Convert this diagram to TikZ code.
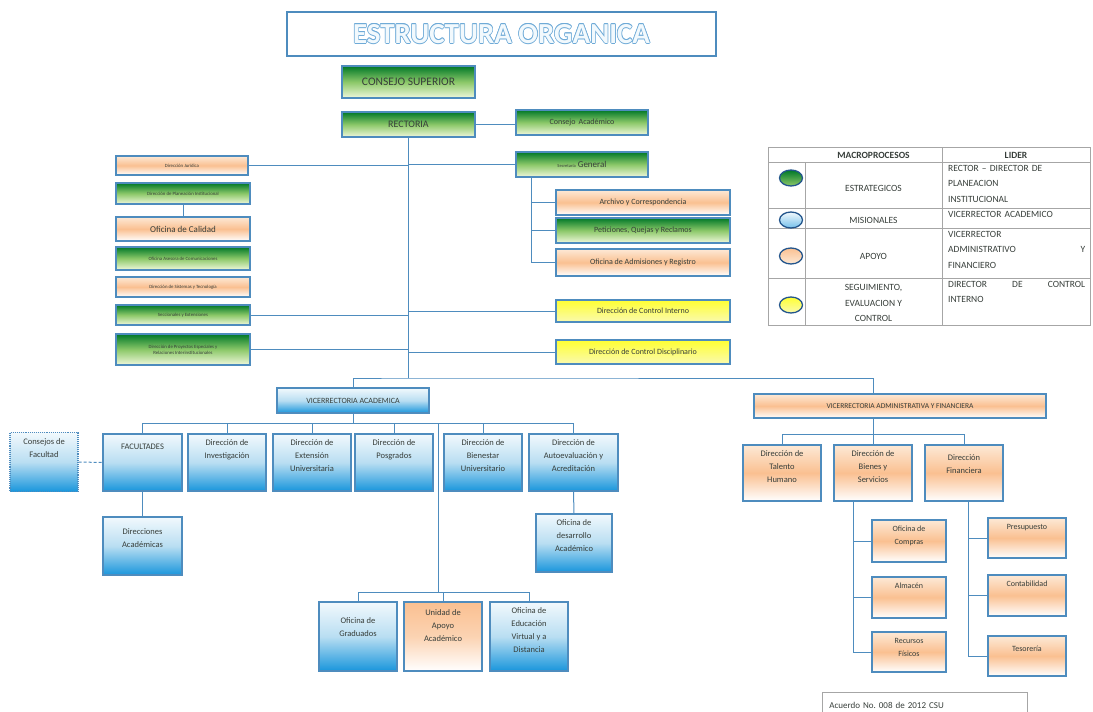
\documentclass[tikz,border=0pt]{standalone}
\usepackage{fontspec}
\setmainfont{Carlito}
\usetikzlibrary{shapes.geometric}
\definecolor{borde}{RGB}{78,140,190}
\definecolor{titulo}{RGB}{110,170,215}
\definecolor{texto}{RGB}{55,62,58}
\definecolor{verdeosc}{RGB}{0,120,40}
\definecolor{verdemed}{RGB}{140,200,105}
\definecolor{verdeclaro}{RGB}{240,248,220}
\definecolor{azul}{RGB}{25,150,220}
\definecolor{azulmed}{RGB}{185,222,242}
\definecolor{azulclaro}{RGB}{242,249,253}
\definecolor{naranja}{RGB}{250,192,145}
\definecolor{naranjaclaro}{RGB}{253,233,214}
\definecolor{amarillo}{RGB}{255,255,50}
\definecolor{amarilloclaro}{RGB}{250,250,175}
\definecolor{circulo}{RGB}{35,85,140}
\newcommand{\tope}[3]{\parbox[c][#2pt][t]{#1pt}{\centering\vspace*{6pt}#3}}
\newcommand{\capa}[3]{\makebox[0pt][l]{\hspace*{#1}\raisebox{#2}{\color{titulo}#3}}}
\newcommand{\hueco}[1]{\capa{0.7pt}{0pt}{#1}\capa{-0.7pt}{0pt}{#1}\capa{0pt}{0.7pt}{#1}\capa{0pt}{-0.7pt}{#1}%
  \capa{0.5pt}{0.5pt}{#1}\capa{-0.5pt}{0.5pt}{#1}\capa{0.5pt}{-0.5pt}{#1}\capa{-0.5pt}{-0.5pt}{#1}%
  {\color{azulclaro}#1}}

\begin{document}
\begin{tikzpicture}[x=1pt,y=-1pt,
  caja/.style={draw=borde, line width=1.1pt, align=center, text=texto, inner sep=1pt},
  sz/.style 2 args={minimum width=#1pt, minimum height=#2pt},
  verde/.style={caja, top color=verdeosc, bottom color=verdeclaro, middle color=verdemed},
  azulc/.style={caja, inner sep=0pt, top color=azulclaro, bottom color=azul, middle color=azulmed,
    font=\fontsize{8.5}{13}\selectfont},
  naranjac/.style={caja, top color=naranjaclaro, bottom color=white, middle color=naranja},
  amarilloc/.style={caja, top color=amarillo, bottom color=amarilloclaro},
  chico/.style={font=\fontsize{4.8}{6}\selectfont},
  linea/.style={draw=borde, line width=1pt},
  tabla/.style={draw=gray!70, line width=0.6pt},
  celda/.style={text=texto, font=\fontsize{9.5}{15.5}\selectfont, align=center},
  marca/.style={ellipse, draw=circulo, line width=1.3pt, minimum width=23pt, minimum height=16pt, inner sep=0pt}]
\useasboundingbox (0,0) rectangle (1093,712);

\node[draw=borde, line width=1.6pt, sz={429}{44}] (tit) at (501.5,34)
  {\fontsize{29}{29}\selectfont\bfseries\hueco{ESTRUCTURA ORGANICA}};

\node[verde, sz={133}{32}, font=\fontsize{11.5}{12}\selectfont] (cs) at (408.5,82) {CONSEJO SUPERIOR};
\node[verde, sz={133}{25}, font=\fontsize{10}{11}\selectfont] (rect) at (408.5,124.5) {RECTORIA};
\node[verde, sz={132}{25}, font=\fontsize{8}{9}\selectfont] (cacad) at (582,122.5) {Consejo\, Académico};

% staff izquierda
\node[naranjac, chico, sz={132}{19}] (djur) at (182,165.5) {Dirección Jurídica};
\node[verde, chico, sz={134}{21}] (plan) at (183,193.5) {Dirección de Planeación Institucional};
\node[naranjac, sz={134}{24}, font=\fontsize{9}{10}\selectfont] (cal) at (183,229) {Oficina de Calidad};
\node[verde, chico, sz={134}{23}] (com) at (183,258.5) {Oficina Asesora de Comunicaciones};
\node[naranjac, chico, sz={134}{20}] (sis) at (183,287) {Dirección de Sistemas y Tecnología};
\node[verde, chico, sz={134}{20}] (secc) at (183,315) {Seccionales y Extensiones};
\node[verde, chico, sz={134}{31}] (proy) at (183,349.5) {Dirección de Proyectos Especiales y\\Relaciones Interinstitucionales};

% staff derecha
\node[verde, sz={132}{25}, font=\fontsize{9}{10}\selectfont] (sgen) at (582,164.5) {{\fontsize{4.5}{5}\selectfont Secretaría} General};
\node[naranjac, sz={174}{25}, font=\fontsize{8}{9}\selectfont] (arch) at (643,202.5) {Archivo y Correspondencia};
\node[verde, sz={174}{25}, font=\fontsize{8}{9}\selectfont] (pqr) at (643,230.5) {Peticiones, Quejas y Reclamos};
\node[naranjac, sz={174}{27}, font=\fontsize{8}{9}\selectfont] (adm) at (643,262.5) {Oficina de Admisiones y Registro};
\node[amarilloc, sz={174}{22}, font=\fontsize{8}{9}\selectfont] (cint) at (643,311) {Dirección de Control Interno};
\node[amarilloc, sz={174}{24}, font=\fontsize{8}{9}\selectfont] (cdis) at (643,352) {Dirección de Control Disciplinario};

% vicerrectoria academica
\node[caja, top color=azulclaro, bottom color=azul, middle color=azulmed, sz={152}{25}, font=\fontsize{8}{9}\selectfont] (va) at (353,400.5) {VICERRECTORIA ACADEMICA};
\node[azulc, densely dotted] (cfac) at (44,462) {\tope{68}{59}{Consejos de\\Facultad}};
\node[azulc] (fac) at (142.5,462.5) {\tope{79}{57}{\vspace*{4pt}FACULTADES}};
\node[azulc] (inv) at (227,462.5) {\tope{78}{57}{Dirección de\\Investigación}};
\node[azulc] (ext) at (312,462.5) {\tope{78}{57}{Dirección de\\Extensión\\Universitaria}};
\node[azulc] (pos) at (394,462.5) {\tope{78}{57}{Dirección de\\Posgrados}};
\node[azulc] (bie) at (483,462.5) {\tope{78}{57}{Dirección de\\Bienestar\\Universitario}};
\node[azulc] (aut) at (573.5,462.5) {\tope{89}{57}{Dirección de\\Autoevaluación y\\Acreditación}};
\node[azulc] (dirac) at (142.5,546) {\tope{79}{58}{\vspace*{6pt}Direcciones\\Académicas}};
\node[azulc] (odes) at (574,543) {\tope{76}{58}{Oficina de\\desarrollo\\Académico}};
\node[azulc] (grad) at (358,636.5) {\tope{78}{69}{\vspace*{10pt}Oficina de\\Graduados}};
\node[caja, inner sep=0pt, top color=naranja, bottom color=white, middle color=naranja!70, font=\fontsize{8.5}{13}\selectfont] (apoyo) at (443,636.5) {\tope{78}{69}{\vspace*{2pt}Unidad de\\Apoyo\\Académico}};
\node[azulc] (virt) at (529,636.5) {\tope{78}{69}{Oficina de\\Educación\\Virtual y a\\Distancia}};

% vicerrectoria administrativa
\node[naranjac, sz={292}{24}, font=\fontsize{7.5}{8}\selectfont] (vaf) at (900,406) {VICERRECTORIA ADMINISTRATIVA Y FINANCIERA};
\node[naranjac, inner sep=0pt, font=\fontsize{8.5}{13}\selectfont] (tal) at (782,473) {\tope{78}{56}{Dirección de\\Talento\\Humano}};
\node[naranjac, inner sep=0pt, font=\fontsize{8.5}{13}\selectfont] (bys) at (873,473) {\tope{78}{56}{Dirección de\\Bienes y\\Servicios}};
\node[naranjac, inner sep=0pt, font=\fontsize{8.5}{13}\selectfont] (fin) at (964,473) {\tope{78}{56}{\vspace*{4pt}Dirección\\Financiera}};
\node[naranjac, inner sep=0pt, font=\fontsize{8}{13}\selectfont] (compras) at (909,541) {\tope{74}{42}{Oficina de\\Compras}};
\node[naranjac, inner sep=0pt, font=\fontsize{8}{13}\selectfont] (alm) at (909,597.5) {\tope{74}{41}{Almacén}};
\node[naranjac, inner sep=0pt, font=\fontsize{8}{13}\selectfont] (rec) at (909,652) {\tope{74}{40}{Recursos\\Físicos}};
\node[naranjac, inner sep=0pt, font=\fontsize{8}{13}\selectfont] (pres) at (1027,538) {\tope{78}{40}{Presupuesto}};
\node[naranjac, inner sep=0pt, font=\fontsize{8}{13}\selectfont] (cont) at (1027,595.5) {\tope{78}{41}{Contabilidad}};
\node[naranjac, inner sep=0pt, font=\fontsize{8}{13}\selectfont] (tes) at (1027,656) {\tope{78}{40}{\vspace*{4pt}Tesorería}};

% conectores
\coordinate (tr) at (408.5,378);
\coordinate (ba) at (353,423);
\coordinate (vb) at (438,423);
\coordinate (bb) at (438,592);
\coordinate (bf) at (873,434);
\coordinate (sv) at (531,177);
\coordinate (bv) at (853,501);
\coordinate (fv) at (968,501);
\draw[linea] (rect.east) -- (rect.east -| cacad.west);
\draw[linea] (rect.south) -- (tr);
\draw[linea] (djur.east) -- (djur.east -| tr);
\draw[linea] (tr |- sgen.west) -- (sgen.west);
\draw[linea] (secc.east) -- (secc.east -| tr);
\draw[linea] (proy.east) -- (proy.east -| tr);
\draw[linea] (tr |- cint.west) -- (cint.west);
\draw[linea] (tr |- cdis.west) -- (cdis.west);
\draw[linea] (plan.south) -- (cal.north);
\draw[linea] (sv) |- (adm.west);
\foreach \n in {arch,pqr} \draw[linea] (sv |- \n.west) -- (\n.west);
\draw[linea] (va.north) |- (tr) -| (vaf.north -| bf);
\draw[linea] (va.south) -- (ba);
\draw[linea] (fac.north |- ba) -- (aut.north |- ba);
\foreach \n in {fac,inv,ext,pos,bie,aut} \draw[linea] (\n.north |- ba) -- (\n.north);
\draw[linea] (vb) -- (bb);
\draw[linea] (grad.north |- bb) -- (virt.north |- bb);
\foreach \n in {grad,apoyo,virt} \draw[linea] (\n.north |- bb) -- (\n.north);
\draw[linea] (fac.south) -- (dirac.north);
\draw[linea] (aut.south) -- (odes.north);
\draw[linea, densely dashed] (cfac.east) -- (fac.west);
\draw[linea] (vaf.south -| bf) -- (bf);
\draw[linea] (tal.north |- bf) -- (fin.north |- bf);
\foreach \n in {tal,bys,fin} \draw[linea] (\n.north |- bf) -- (\n.north);
\draw[linea] (bv) |- (rec.west);
\foreach \n in {compras,alm} \draw[linea] (bv |- \n.west) -- (\n.west);
\draw[linea] (fv) |- (tes.west);
\foreach \n in {pres,cont} \draw[linea] (fv |- \n.west) -- (\n.west);

% tabla de macroprocesos
\draw[tabla] (768,147) rectangle (1090,325);
\draw[tabla] (768,162) -- (1090,162);
\foreach \y in {208,228,278} \draw[tabla] (768,\y) -- (1090,\y);
\draw[tabla] (805,162) -- (805,325);
\draw[tabla] (942,147) -- (942,325);
\node[celda, font=\fontsize{9.5}{11}\selectfont\bfseries] (hmac) at (873.5,155) {MACROPROCESOS};
\node[celda, font=\fontsize{9.5}{11}\selectfont\bfseries] (hlid) at (1016,155) {LIDER};
\node[marca, top color=verdeosc, bottom color=verdemed] (m1) at (791,178) {};
\node[marca, top color=azulclaro, bottom color=azul!60] (m2) at (791,220) {};
\node[marca, top color=naranja, bottom color=naranjaclaro] (m3) at (791,256) {};
\node[marca, top color=amarillo, bottom color=amarilloclaro] (m4) at (791,305) {};
\node[celda] (p1) at (873.5,188) {ESTRATEGICOS};
\node[celda] (p2) at (873.5,220) {MISIONALES};
\node[celda] (p3) at (873.5,256) {APOYO};
\node[celda] (p4) at (873.5,303) {SEGUIMIENTO,\\EVALUACION Y\\CONTROL};
\node[celda, anchor=north west, text width=137pt, align=left, inner sep=0pt] (l1) at (948,165)
  {RECTOR -- DIRECTOR DE\\PLANEACION\\INSTITUCIONAL};
\node[celda, anchor=north west, text width=137pt, align=left, inner sep=0pt] (l2) at (948,211)
  {VICERRECTOR ACADEMICO};
\node[celda, anchor=north west, text width=137pt, align=left, inner sep=0pt] (l3) at (948,231)
  {VICERRECTOR\\ADMINISTRATIVO\hfill Y\\FINANCIERO};
\node[celda, anchor=north west, text width=137pt, align=left, inner sep=0pt] (l4) at (948,281)
  {DIRECTOR\hfill DE\hfill CONTROL\\INTERNO};

\node[draw=gray!70, line width=0.8pt, sz={205}{26}, anchor=north west, text width=191pt, align=left,
  inner sep=7pt, text=texto, font=\fontsize{9}{10}\selectfont] (acu) at (822,692) {Acuerdo No.\ 008 de 2012 CSU};
\end{tikzpicture}
\end{document}
